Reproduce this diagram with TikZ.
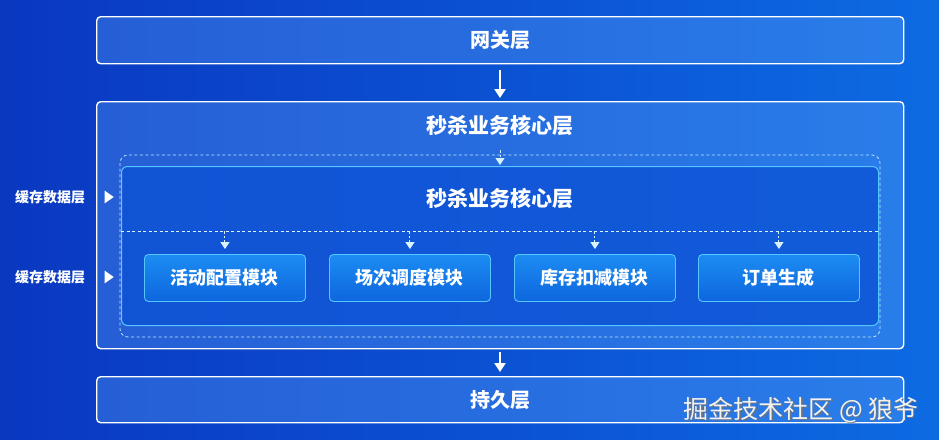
\documentclass[tikz,border=0pt]{standalone}
\usepackage{fontspec}
\setmainfont{Noto Sans CJK SC}
\usetikzlibrary{arrows.meta,shapes.geometric,shadows}
\definecolor{bgL}{HTML}{0A38C0}
\definecolor{bgM}{HTML}{0B50D2}
\definecolor{bgR}{HTML}{0D6BE2}
\definecolor{boxfill}{HTML}{6AAEFF}
\definecolor{cyanb}{HTML}{55C6FF}
\definecolor{modfill}{HTML}{1C8CF2}
\definecolor{modfillB}{HTML}{0E66DE}
\definecolor{innerfill}{HTML}{0A50D4}
\tikzset{
  layerbox/.style={draw=white, line width=1.4pt, rounded corners=4pt, fill=boxfill, fill opacity=0.3, text opacity=1, minimum width=807pt, anchor=north west, inner sep=0pt},
  layertext/.style={text=white, font=\bfseries\fontsize{20}{20}\selectfont},
  innerbox/.style={draw=cyanb, line width=1pt, rounded corners=6pt, fill=innerfill, fill opacity=0.75, minimum width=757pt, minimum height=159pt, anchor=north west, inner sep=0pt},
  modbox/.style={draw=cyanb, line width=0.9pt, rounded corners=4pt, top color=modfill, bottom color=modfillB, minimum width=161pt, minimum height=47pt, text=white, font=\bfseries\fontsize{18}{18}\selectfont, anchor=north west, inner sep=0pt},
  sidelabel/.style={text=white, font=\bfseries\fontsize{14}{14}\selectfont, inner sep=0pt},
  tri/.style={isosceles triangle, fill=white, draw=none, minimum width=11pt, minimum height=9pt, inner sep=0pt, isosceles triangle apex angle=70},
  bigarrow/.style={draw=white, line width=2.2pt, -{Triangle[width=11pt,length=9pt]}},
  dasharrow/.style={draw=white!85!cyan, line width=1pt, dash pattern=on 2.5pt off 2pt, -{Triangle[width=9pt,length=7pt]}},
}
\begin{document}
\begin{tikzpicture}[x=1pt,y=-1pt]
\useasboundingbox (0,0) rectangle (939,439);
\shade[left color=bgL, right color=bgM] (0,0) rectangle (470,439);
\shade[left color=bgM, right color=bgR] (469.5,0) rectangle (939,439);
% layers
\node[layerbox, minimum height=47pt] (gw) at (96,16) {};
\node[layertext] at (gw.center) {网关层};
\node[layerbox, minimum height=247pt] (core) at (96,101) {};
\node[layertext, font=\bfseries\fontsize{21}{21}\selectfont] (coretitle) at (500,126) {秒杀业务核心层};
\draw[white!60!cyanb, line width=0.8pt, dash pattern=on 3pt off 2.5pt, rounded corners=8pt] (120,155) rectangle (880,337);
\coordinate (dtop) at (500,150);
\node[innerbox] (inner) at (121,166) {};
\node[text=white, font=\bfseries\fontsize{21}{21}\selectfont] (innertitle) at (500,199) {秒杀业务核心层};
\draw[white!80!cyanb, line width=1pt, dash pattern=on 3pt off 2.5pt] (inner.west |- 0,231) coordinate (dl) -- (inner.east |- 0,231) coordinate (dr);
\node[layerbox, minimum height=46pt] (persist) at (96,376) {};
\node[layertext] at (persist.center) {持久层};
% modules
\node[modbox] (m1) at (144,254) {活动配置模块};
\node[modbox] (m2) at (329,254) {场次调度模块};
\node[modbox] (m3) at (514,254) {库存扣减模块};
\node[modbox] (m4) at (698,254) {订单生成};
\foreach \m in {m1,m2,m3,m4} {
  \coordinate (\m top) at (\m.north |- dl);
  \draw[dasharrow, shorten >=5pt] (\m top) -- (\m.north);
}
% arrows
\draw[bigarrow, shorten <=6pt, shorten >=3pt] (gw.south -| 500,0) -- (core.north -| 500,0);
\draw[dasharrow, shorten >=1pt] (dtop) -- (inner.north -| 500,0);
\draw[bigarrow, shorten <=3pt, shorten >=4pt] (core.south -| 500,0) -- (persist.north -| 500,0);
% side labels
\node[sidelabel] (s1) at (50,197) {缓存数据层};
\node[tri] (t1) at (108,197) {};
\node[sidelabel] (s2) at (50,277) {缓存数据层};
\node[tri] (t2) at (108,277) {};
% watermark
\node[text=black!55, opacity=0.8, font=\fontsize{25}{25}\selectfont, anchor=east] at (923.5,411) {掘金技术社区 @ 狼爷};
\node[text=white!90!gray, font=\fontsize{25}{25}\selectfont, anchor=east] (wm) at (922,410) {掘金技术社区 @ 狼爷};
\end{tikzpicture}
\end{document}
